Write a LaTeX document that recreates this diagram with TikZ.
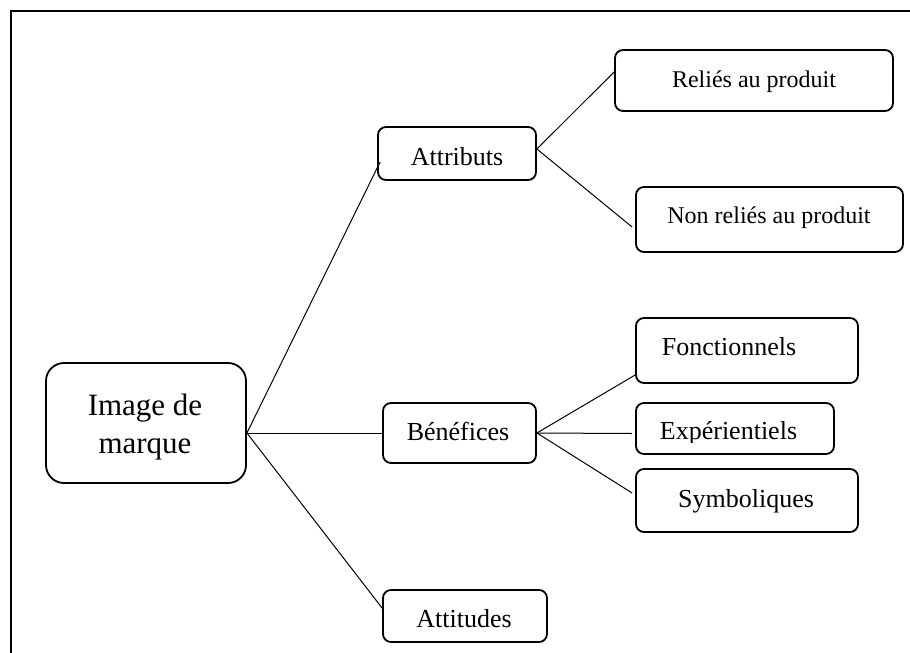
\documentclass[tikz,border=0pt]{standalone}
\usepackage{fontspec}
\setmainfont{Liberation Serif}
\usetikzlibrary{calc}

\begin{document}
\begin{tikzpicture}[x=1pt,y=-1pt,
  box/.style={draw, line width=1.8pt, rounded corners=8pt, inner sep=0pt},
  bigbox/.style={box, rounded corners=18pt},
  lbl/.style={inner sep=0pt, anchor=base},
  big/.style={lbl, font=\fontsize{31}{36}\selectfont},
  mid/.style={lbl, font=\fontsize{26}{30}\selectfont},
  small/.style={lbl, font=\fontsize{24}{28}\selectfont},
  link/.style={line width=1pt}]

% page extent
\useasboundingbox (0,0) rectangle (910,653);

% outer frame (left and top edges)
\draw[line width=2.6pt] (11,653) -- (11,11) -- (910,11);

% boxes
\node[bigbox, minimum width=200pt, minimum height=120pt] (img) at (146,423) {};
\node[box, minimum width=158pt, minimum height=53pt] (attr) at (457,153.5) {};
\node[box, minimum width=153pt, minimum height=60pt] (bene) at (459.5,433) {};
\node[box, minimum width=164pt, minimum height=52pt] (atti) at (465,616) {};
\node[box, minimum width=278pt, minimum height=61pt] (rel) at (754,80.5) {};
\node[box, minimum width=267pt, minimum height=65pt] (nrel) at (769.5,219.5) {};
\node[box, minimum width=222pt, minimum height=65pt] (fonc) at (747,350.5) {};
\node[box, minimum width=198pt, minimum height=51pt] (expe) at (735,428.5) {};
\node[box, minimum width=222pt, minimum height=63pt] (symb) at (747,500.5) {};

% texts
\node[big] (imgA) at (145,415) {Image de};
\node[big] (imgB) at (145,453) {marque};
\node[mid] (tattr) at (457,165) {Attributs};
\node[mid] (tbene) at (458,440) {Bénéfices};
\node[mid] (tatti) at (464,627) {Attitudes};
\node[small] (trel) at (754,87) {Reliés au produit};
\node[small] (tnrel) at (769,223) {Non reliés au produit};
\node[mid] (tfonc) at (729,355) {Fonctionnels};
% this label is cut off just below its baseline
\begin{scope}
  \clip (640,400) rectangle (830,442.5);
  \node[mid] (texpe) at (728.5,439.5) {Expérientiels};
\end{scope}
\node[mid] (tsymb) at (746,507) {Symboliques};

% connectors
\coordinate (hub) at ($(img.east)+(0,10)$);
\coordinate (hubA) at ($(attr.east)+(0,-4.5)$);
\coordinate (hubB) at (bene.east);
\draw[link] (hub) -- ($(attr.west)+(3,8.5)$);
\draw[link] (hub) -- (bene.west);
\draw[link] (hub) -- ($(atti.west)+(0,-8)$);
\draw[link] (hubA) -- ($(rel.west)+(0,-8.5)$);
\draw[link] (hubA) -- ($(nrel.west)+(-3,7.5)$);
\draw[link] (hubB) -- ($(fonc.west)+(0,24.5)$);
\draw[link] (hubB) -- ($(expe.west)+(-3,5)$);
\draw[link] (hubB) -- ($(symb.west)+(-3,-7.5)$);
\end{tikzpicture}
\end{document}
